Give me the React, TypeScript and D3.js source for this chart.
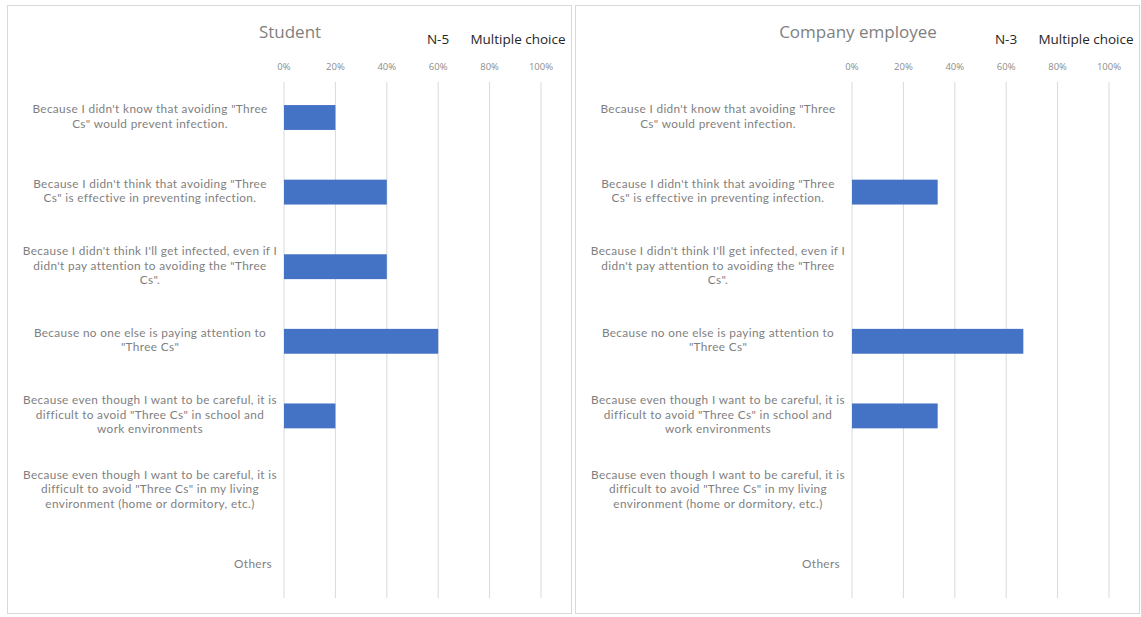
import React from "react";
import * as d3 from "d3";

const categories: string[] = [
  "Because I didn't know that avoiding \"Three\nCs\" would prevent infection.",
  "Because I didn't think that avoiding \"Three\nCs\" is effective in preventing infection.",
  "Because I didn't think I'll get infected, even if I\ndidn't pay attention to avoiding the \"Three\nCs\".",
  "Because no one else is paying attention to\n\"Three Cs\"",
  "Because even though I want to be careful, it is\ndifficult to avoid  \"Three Cs\" in school and\nwork environments",
  "Because even though I want to be careful, it is\ndifficult to avoid  \"Three Cs\" in my living\nenvironment (home or dormitory, etc.)",
  "Others",
];

const studentValues: number[] = [0.2, 0.4, 0.4, 0.6, 0.2, 0, 0];
const employeeValues: number[] = [0, 1 / 3, 0, 2 / 3, 1 / 3, 0, 0];
const tickValues: number[] = [0, 0.2, 0.4, 0.6, 0.8, 1.0];

const panels = [
  { title: "Student", n: "N-5", note: "Multiple choice", values: studentValues },
  { title: "Company employee", n: "N-3", note: "Multiple choice", values: employeeValues },
];

const FONT = "'Open Sans', Lato, sans-serif";
const LFONT = "Lato, 'Open Sans', sans-serif";

function Panel({ p, ox }: { p: typeof panels[0]; ox: number }) {
  const x = d3.scaleLinear().domain([0, 1]).range([284, 541]);
  const y = d3.scaleBand<number>().domain(d3.range(categories.length)).range([80.2, 602.4]).paddingInner(2 / 3).paddingOuter(1 / 3);
  const labelX = 150;
  const lh = 14.4;
  const fmt = d3.format(".0%");
  return (
    <g transform={`translate(${ox},0)`}>
      <rect x={7.5} y={5.5} width={564} height={608} fill="#fff" stroke="#d9d9d9" strokeWidth={1} />
      <text x={290} y={33} textAnchor="middle" dominantBaseline="middle" fontSize={17} fill="#7f7f7f" fontFamily={FONT}>{p.title}</text>
      <text x={438} y={40} textAnchor="middle" dominantBaseline="middle" fontSize={13.5} fill="#262626" fontFamily={FONT}>{p.n}</text>
      <text x={518} y={40} textAnchor="middle" dominantBaseline="middle" fontSize={13.5} fill="#262626" fontFamily={FONT}>{p.note}</text>
      {tickValues.map((t) => (
        <g key={t}>
          <line x1={x(t)} x2={x(t)} y1={82} y2={598} stroke="#d9d9d9" strokeWidth={1} />
          <text x={x(t)} y={67} textAnchor="middle" dominantBaseline="middle" fontSize={9.5} fill="#8c8c8c" fontFamily={FONT}>{fmt(t)}</text>
        </g>
      ))}
      {p.values.map((v, i) =>
        v > 0 ? (
          <rect key={i} x={x(0)} y={y(i)!} width={x(v) - x(0)} height={y.bandwidth()} fill="#4472C4" />
        ) : null
      )}
      {categories.map((c, i) => {
        const lines = c.split("\n");
        const cy = y(i)! + y.bandwidth() / 2;
        const start = cy - ((lines.length - 1) * lh) / 2;
        return (
          <g key={i}>
            {lines.map((l, j) => (
              <text key={j} x={lines.length === 1 ? 272 : labelX} y={start + j * lh} dominantBaseline="middle"
                textAnchor={lines.length === 1 ? "end" : "middle"} fontSize={11.8} letterSpacing={0.35}
                fill="#7f7f7f" fontFamily={LFONT}>{l}</text>
            ))}
          </g>
        );
      })}
    </g>
  );
}

export default function App() {
  return (
    <svg width={1141} height={617} style={{ position: "absolute", left: 0, top: 0 }}>
      <rect width={1141} height={617} fill="#fff" />
      <Panel p={panels[0]} ox={0} />
      <Panel p={panels[1]} ox={568} />
    </svg>
  );
}
